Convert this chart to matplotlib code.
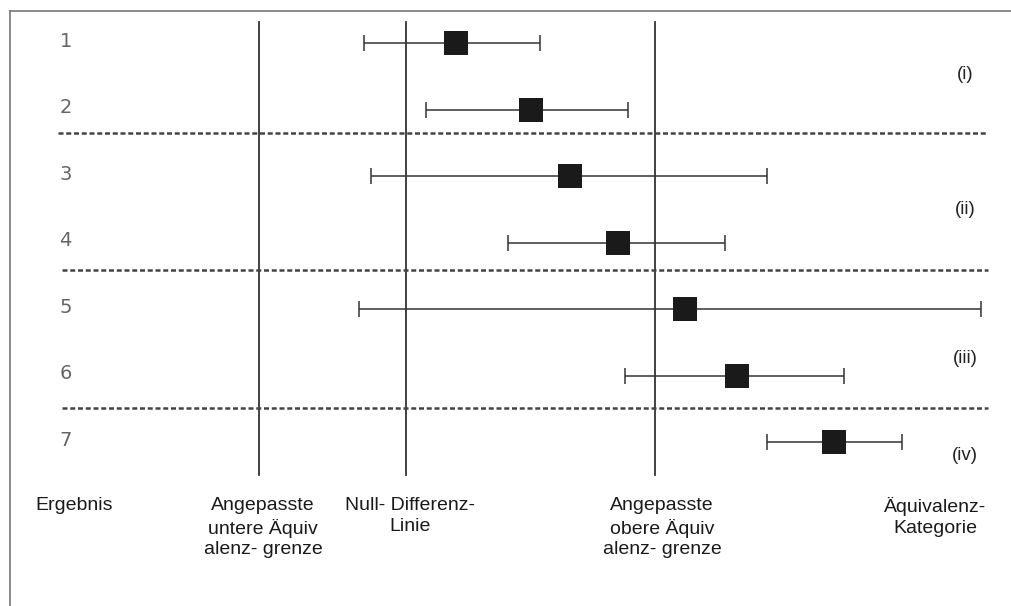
import matplotlib
matplotlib.use("Agg")
import matplotlib.pyplot as plt

# Ergebnisse 1-7: Punktschätzer und Konfidenzintervall
# (Skala: Null-Differenz = 0, angepasste obere Grenze = 1)
rows = [1, 2, 3, 4, 5, 6, 7]
estimate = [0.20, 0.50, 0.66, 0.85, 1.12, 1.33, 1.72]
ci_low = [-0.17, 0.08, -0.14, 0.41, -0.19, 0.88, 1.45]
ci_high = [0.54, 0.89, 1.45, 1.28, 2.31, 1.76, 1.99]

# Referenzlinien
lower_limit = -0.59
null_line = 0.0
upper_limit = 1.0

categories = ["(i)", "(ii)", "(iii)", "(iv)"]
category_rows = [1.48, 3.51, 5.74, 7.2]
separators = [2.35, 4.41, 6.49]

bottom_labels = ["Ergebnis",
                 "Angepasste\nuntere Äquiv\nalenz- grenze",
                 "Null- Differenz-\nLinie",
                 "Angepasste\nobere Äquiv\nalenz- grenze",
                 "Äquivalenz-\nKategorie"]

plt.rcParams['font.family'] = ['Liberation Sans', 'DejaVu Sans']

fig = plt.figure(figsize=(10.11, 6.06), dpi=100)
ax = fig.add_axes([0, 0, 1, 1])
ax.set_xlim(-406 / 249, 605 / 249)
ax.set_ylim(9.466, 0.353)
ax.axis('off')

# Rahmen (oben und links)
fig.add_artist(plt.Line2D([10 / 1011, 1], [1 - 11 / 606, 1 - 11 / 606],
                          color='#777777', lw=1.2, transform=fig.transFigure))
fig.add_artist(plt.Line2D([10 / 1011, 10 / 1011], [0, 1 - 11 / 606],
                          color='#777777', lw=1.2, transform=fig.transFigure))

# senkrechte Linien
for xv in [lower_limit, null_line, upper_limit]:
    ax.plot([xv, xv], [0.684, 7.496], color='#333333', lw=1.3)

# gestrichelte Trennlinien
for i, yv in enumerate(separators):
    x0 = -1.398 if i == 0 else -1.382
    ax.plot([x0, 2.337], [yv, yv], color='#444444', lw=1.8,
            dashes=(2.0, 1.1))

# Konfidenzintervalle und Punktschätzer
for r, est, lo, hi in zip(rows, estimate, ci_low, ci_high):
    ax.errorbar(est, r, xerr=[[est - lo], [hi - est]], fmt='none',
                ecolor='#333333', elinewidth=1.1, capsize=5.5, capthick=1.1)
    ax.plot(est, r, marker='s', markersize=17, color='#1a1a1a',
            markeredgewidth=0)
    ax.text(-1.367, r - 0.03, str(r), fontsize=14, color='#666666',
            ha='center', va='center', family=['DejaVu Sans'])

# Kategorien
for lab, yv in zip(categories, category_rows):
    ax.text(2.245, yv, lab, fontsize=13.5, color='#222222',
            ha='center', va='center')

# Beschriftung unten
label_x = [74, 263, 410, 662, 935]
for lab, xp in zip(bottom_labels, label_x):
    fig.text(xp / 1011, 1 - 497 / 606, lab, fontsize=14, color='#1a1a1a',
             ha='center', va='top', linespacing=1.3)

fig.savefig('out.png', dpi=100)
